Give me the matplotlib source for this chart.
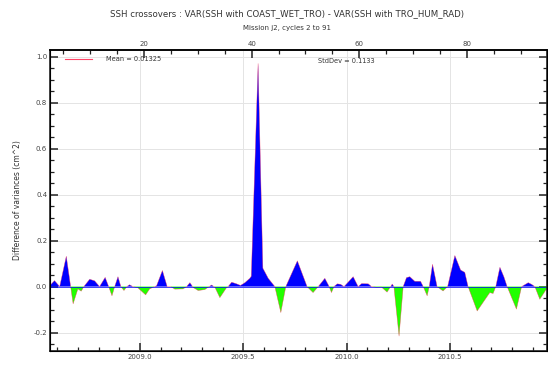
import numpy as np
import matplotlib
matplotlib.use("Agg")
import matplotlib.pyplot as plt
from matplotlib.ticker import MultipleLocator, FormatStrFormatter
from matplotlib.lines import Line2D

# Crossover variance differences (cm^2) against decimal year
years = [
    2008.565, 2008.587, 2008.612, 2008.644, 2008.665, 2008.677, 2008.700, 2008.716,
    2008.729, 2008.757, 2008.781, 2008.805, 2008.832, 2008.849, 2008.865, 2008.878,
    2008.894, 2008.908, 2008.923, 2008.937, 2008.950, 2008.966, 2008.990, 2009.028,
    2009.047, 2009.071, 2009.081, 2009.109, 2009.132, 2009.149, 2009.169, 2009.209,
    2009.226, 2009.242, 2009.258, 2009.282, 2009.314, 2009.335, 2009.347, 2009.363,
    2009.387, 2009.419, 2009.427, 2009.444, 2009.468, 2009.487, 2009.508, 2009.532,
    2009.539, 2009.572, 2009.595, 2009.621, 2009.653, 2009.682, 2009.706, 2009.762,
    2009.809, 2009.838, 2009.863, 2009.895, 2009.916, 2009.927, 2009.939, 2009.955,
    2009.971, 2009.988, 2010.032, 2010.056, 2010.073, 2010.105, 2010.121, 2010.145,
    2010.169, 2010.196, 2010.221, 2010.229, 2010.254, 2010.274, 2010.290, 2010.306,
    2010.330, 2010.358, 2010.371, 2010.390, 2010.400, 2010.416, 2010.438, 2010.467,
    2010.489, 2010.524, 2010.552, 2010.572, 2010.588, 2010.632, 2010.693, 2010.709,
    2010.722, 2010.742, 2010.761, 2010.777, 2010.822, 2010.847, 2010.879, 2010.895,
    2010.911, 2010.935, 2010.964, 2010.969,
]
var_diff = [
    0.005, 0.026, 0.000, 0.132, 0.000, -0.075, -0.010, -0.020,
    0.000, 0.032, 0.025, 0.000, 0.040, 0.000, -0.040, 0.000,
    0.043, 0.000, -0.017, 0.000, 0.008, 0.000, -0.005, -0.036,
    -0.010, 0.000, 0.004, 0.070, 0.000, 0.000, -0.011, -0.010,
    0.000, 0.017, -0.004, -0.017, -0.013, 0.000, 0.007, -0.003,
    -0.048, -0.005, 0.000, 0.019, 0.012, 0.005, 0.017, 0.036,
    0.045, 0.970, 0.080, 0.036, 0.000, -0.113, 0.000, 0.112,
    0.000, -0.026, 0.000, 0.036, 0.000, -0.026, 0.000, 0.012,
    0.010, 0.000, 0.043, 0.000, 0.013, 0.012, 0.000, -0.003,
    -0.002, -0.024, 0.011, 0.000, -0.215, 0.000, 0.039, 0.043,
    0.023, 0.023, 0.000, -0.040, 0.000, 0.097, 0.000, -0.019,
    0.000, 0.135, 0.072, 0.062, 0.000, -0.106, -0.026, -0.030,
    0.000, 0.084, 0.043, 0.000, -0.098, 0.000, 0.017, 0.010,
    0.000, -0.055, -0.015, -0.010,
]

title = "SSH crossovers : VAR(SSH with COAST_WET_TRO) - VAR(SSH with TRO_HUM_RAD)"
subtitle = "Mission j2, cycles 2 to 91"
y_label = "Difference of variances (cm^2)"
mean_text = "Mean = 0.01325"
std_text = "StdDev = 0.1133"

x = np.array(years)
y = np.array(var_diff)

fig = plt.figure(figsize=(5.48, 3.65), dpi=100)
ax = fig.add_axes([0.0912, 0.0384, 0.9078, 0.8246])

ax.fill_between(x, y, 0, where=y >= 0, interpolate=True, color="#0000ff", linewidth=0)
ax.fill_between(x, y, 0, where=y <= 0, interpolate=True, color="#22ff00", linewidth=0)
ax.plot(x, y, color="#ff3355", linewidth=0.35, alpha=0.7)
ax.axhline(0, color="#0000ff", linewidth=0.5)

ax.set_xlim(2008.565, 2010.972)
ax.set_ylim(-0.28, 1.029)

ax.xaxis.set_major_locator(MultipleLocator(0.5))
ax.xaxis.set_minor_locator(MultipleLocator(0.1))
ax.xaxis.set_major_formatter(FormatStrFormatter("%.1f"))
ax.yaxis.set_major_locator(MultipleLocator(0.2))
ax.yaxis.set_minor_locator(MultipleLocator(0.05))
ax.yaxis.set_major_formatter(FormatStrFormatter("%.1f"))

ax.grid(True, which="major", color="#e4e4e4", linewidth=0.7)
ax.set_axisbelow(True)

ax.tick_params(which="both", direction="in", right=True, labelsize=5,
               labelcolor="#444444", color="#222222")
ax.tick_params(which="major", length=6, width=1.1, pad=2)
ax.tick_params(which="minor", length=3, width=0.9)
for s in ax.spines.values():
    s.set_linewidth(1.2)
    s.set_color("#222222")

ax.set_ylabel(y_label, fontsize=5.5, color="#333333", labelpad=8)

# Cycle numbers along the top
top = ax.twiny()
top.set_xlim(2.5, 95.0)
top.xaxis.set_major_locator(MultipleLocator(20))
top.xaxis.set_minor_locator(MultipleLocator(5))
top.tick_params(which="both", direction="in", labelsize=5, labelcolor="#444444",
                color="#222222", pad=2)
top.tick_params(which="major", length=6, width=1.1)
top.tick_params(which="minor", length=3, width=0.9)
top.spines["top"].set_linewidth(1.2)

handle = Line2D([], [], color="#ff4466", linewidth=0.8)
ax.legend([handle], [mean_text], loc="upper left", frameon=False, fontsize=4.8,
          handlelength=4.0, handletextpad=2.2, borderaxespad=0.5,
          bbox_to_anchor=(0.018, 1.0), labelcolor="#333333")
ax.text(0.538, 0.962, std_text, transform=ax.transAxes, fontsize=4.8,
        color="#333333", va="center", ha="left")

fig.text(0.524, 0.962, title, ha="center", va="center", fontsize=6.2, color="#333333")
fig.text(0.524, 0.923, subtitle, ha="center", va="center", fontsize=5, color="#333333")

fig.savefig("out.png", dpi=100)
